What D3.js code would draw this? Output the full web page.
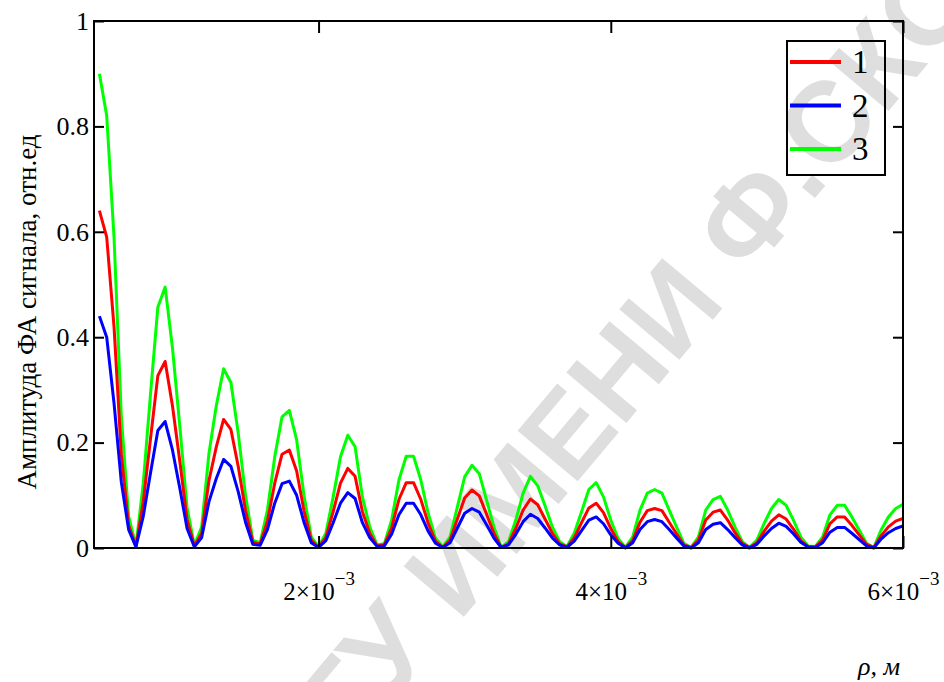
<!DOCTYPE html>
<html>
<head>
<meta charset="utf-8">
<script src="https://cdn.jsdelivr.net/npm/d3@7"></script>
<style>
  body { margin: 0; background: #fff; }
  .chart text { font-family: "Liberation Serif", "DejaVu Serif", "Times New Roman", Times, serif; }
  .chart text.wm { font-family: "Liberation Sans", Arial, sans-serif; }
</style>
</head>
<body>
<svg class="chart" width="944" height="682"></svg>
<script>
// rho, x10^-3 m
const rho = [0.50,0.55,0.60,0.65,0.70,0.75,0.80,0.85,0.90,0.95,
  1.00,1.05,1.10,1.15,1.20,1.25,1.30,1.35,1.40,1.45,
  1.50,1.55,1.60,1.65,1.70,1.75,1.80,1.85,1.90,1.95,
  2.00,2.05,2.10,2.15,2.20,2.25,2.30,2.35,2.40,2.45,
  2.50,2.55,2.60,2.65,2.70,2.75,2.80,2.85,2.90,2.95,
  3.00,3.05,3.10,3.15,3.20,3.25,3.30,3.35,3.40,3.45,
  3.50,3.55,3.60,3.65,3.70,3.75,3.80,3.85,3.90,3.95,
  4.00,4.05,4.10,4.15,4.20,4.25,4.30,4.35,4.40,4.45,
  4.50,4.55,4.60,4.65,4.70,4.75,4.80,4.85,4.90,4.95,
  5.00,5.05,5.10,5.15,5.20,5.25,5.30,5.35,5.40,5.45,
  5.50,5.55,5.60,5.65,5.70,5.75,5.80,5.85,5.90,5.95,6.00];

// curve 1 (red)
const amp1 = [0.640,0.590,0.420,0.178,0.043,0.003,0.087,0.208,0.327,0.354,
  0.270,0.165,0.054,0.004,0.028,0.128,0.192,0.244,0.225,0.155,
  0.071,0.011,0.007,0.051,0.123,0.178,0.186,0.146,0.071,0.015,
  0.001,0.020,0.069,0.123,0.151,0.136,0.069,0.028,0.004,0.006,
  0.038,0.092,0.124,0.124,0.092,0.047,0.013,0.001,0.015,0.055,
  0.095,0.110,0.099,0.064,0.028,0.001,0.008,0.037,0.072,0.093,
  0.082,0.055,0.028,0.008,0.002,0.019,0.048,0.076,0.085,0.067,
  0.037,0.012,0.001,0.014,0.049,0.071,0.075,0.071,0.049,0.027,
  0.006,0.001,0.015,0.053,0.068,0.072,0.053,0.029,0.009,0.001,
  0.010,0.032,0.051,0.063,0.055,0.036,0.014,0.003,0.002,0.015,
  0.046,0.059,0.059,0.043,0.025,0.007,0.001,0.023,0.040,0.051,0.056];

// curve 2 (blue)
const amp2 = [0.440,0.400,0.275,0.125,0.035,0.002,0.060,0.143,0.223,0.240,
  0.186,0.114,0.037,0.002,0.020,0.088,0.132,0.168,0.155,0.107,
  0.049,0.007,0.005,0.035,0.085,0.122,0.127,0.100,0.049,0.010,
  0.001,0.014,0.048,0.085,0.105,0.094,0.048,0.020,0.003,0.004,
  0.026,0.063,0.085,0.085,0.063,0.032,0.009,0.001,0.010,0.038,
  0.066,0.075,0.068,0.044,0.019,0.001,0.006,0.026,0.050,0.064,
  0.056,0.038,0.019,0.006,0.001,0.013,0.033,0.053,0.059,0.046,
  0.025,0.009,0.000,0.010,0.035,0.050,0.054,0.050,0.035,0.019,
  0.004,0.000,0.010,0.035,0.045,0.048,0.035,0.020,0.006,0.000,
  0.007,0.023,0.037,0.047,0.041,0.027,0.011,0.002,0.001,0.010,
  0.030,0.039,0.039,0.028,0.016,0.004,0.000,0.017,0.029,0.037,0.042];

// curve 3 (green)
const amp3 = [0.900,0.820,0.590,0.250,0.060,0.004,0.122,0.293,0.457,0.495,
  0.380,0.232,0.076,0.005,0.040,0.180,0.270,0.340,0.314,0.218,
  0.100,0.015,0.010,0.072,0.173,0.249,0.261,0.205,0.100,0.021,
  0.002,0.028,0.097,0.173,0.214,0.192,0.097,0.040,0.006,0.008,
  0.053,0.129,0.174,0.174,0.129,0.066,0.019,0.002,0.021,0.078,
  0.135,0.157,0.141,0.091,0.040,0.002,0.012,0.053,0.104,0.136,
  0.118,0.080,0.040,0.012,0.003,0.028,0.069,0.111,0.124,0.097,
  0.053,0.018,0.001,0.021,0.072,0.104,0.111,0.104,0.072,0.040,
  0.009,0.001,0.021,0.072,0.092,0.098,0.072,0.040,0.012,0.001,
  0.015,0.047,0.075,0.092,0.081,0.053,0.021,0.004,0.003,0.021,
  0.063,0.081,0.081,0.059,0.034,0.009,0.001,0.034,0.059,0.075,0.083];

const seriesNames = ['1', '2', '3'];
const seriesColors = ['#ff0000', '#0000ff', '#00ff00'];
const yTicks = [0, 0.2, 0.4, 0.6, 0.8, 1];
const xTicks = [2, 4, 6];   // x10^-3
const yTitle = 'Амплитуда ФА сигнала, отн.ед';
const xTitle = 'ρ, м';
const watermark = 'ГГУ ИМЕНИ Ф.СКОРИНЫ';

const svg = d3.select('.chart');
const plot = {left: 94, right: 903, top: 21, bottom: 548};

const x = d3.scaleLinear().domain([0.463, 6]).range([plot.left, plot.right]);
const y = d3.scaleLinear().domain([0, 1]).range([plot.bottom, plot.top]);

// watermark behind everything
svg.append('text')
    .attr('class', 'wm')
    .attr('transform', 'translate(310,800) rotate(-50)')
    .style('font-size', '114px')
    .style('font-weight', 'bold')
    .style('fill', '#dedede')
    .text(watermark);

svg.append('clipPath').attr('id', 'plot-clip')
  .append('rect')
    .attr('x', plot.left).attr('y', plot.top - 2)
    .attr('width', plot.right - plot.left).attr('height', plot.bottom - plot.top + 4);

const line = d3.line()
    .x((d, i) => x(rho[i]))
    .y(d => y(d));

const series = [amp1, amp2, amp3];
// green first, then red, then blue on top
const order = [2, 0, 1];
order.forEach(k => {
    svg.append('path')
        .datum(series[k])
        .attr('clip-path', 'url(#plot-clip)')
        .attr('fill', 'none')
        .attr('stroke', seriesColors[k])
        .attr('stroke-width', 3)
        .attr('stroke-linejoin', 'round')
        .attr('d', line);
});

// frame
svg.append('rect')
    .attr('x', plot.left).attr('y', plot.top)
    .attr('width', plot.right - plot.left).attr('height', plot.bottom - plot.top)
    .attr('fill', 'none')
    .attr('stroke', '#000')
    .attr('stroke-width', 2);

// y axis
const yAxis = svg.append('g')
    .attr('transform', `translate(${plot.left},0)`)
    .call(d3.axisLeft(y).tickValues(yTicks).tickSize(-10).tickPadding(5)
        .tickFormat(d => d === 0 || d === 1 ? String(d) : d3.format('.1f')(d)));
yAxis.attr('font-family', null).attr('font-size', null);
yAxis.select('.domain').remove();
yAxis.selectAll('.tick line').attr('stroke', '#000').attr('stroke-width', 2);
yAxis.selectAll('.tick text')
    .style('font-size', '26px')
    .attr('fill', '#000');

svg.append('g')
    .attr('transform', `translate(${plot.right},0)`)
    .call(d3.axisRight(y).tickValues(yTicks).tickSize(-10).tickFormat(''))
    .call(g => g.select('.domain').remove())
    .selectAll('.tick line').attr('stroke', '#000').attr('stroke-width', 2);

// x axis
const xAxis = svg.append('g')
    .attr('transform', `translate(0,${plot.bottom})`)
    .call(d3.axisBottom(x).tickValues(xTicks).tickSize(-12).tickFormat(''));
xAxis.attr('font-family', null).attr('font-size', null);
xAxis.select('.domain').remove();
xAxis.selectAll('.tick line').attr('stroke', '#000').attr('stroke-width', 2);
xAxis.selectAll('.tick text')
    .attr('y', 52).attr('dy', null)
    .attr('fill', '#000')
    .style('font-size', '25px')
    .each(function(d) {
        const t = d3.select(this);
        t.append('tspan').text(d + '×10');
        t.append('tspan').attr('dy', -15).style('font-size', '19px').text('−3');
    });

svg.append('g')
    .attr('transform', `translate(0,${plot.top})`)
    .call(d3.axisTop(x).tickValues(xTicks).tickSize(-12).tickFormat(''))
    .call(g => g.select('.domain').remove())
    .selectAll('.tick line').attr('stroke', '#000').attr('stroke-width', 2);

// titles
svg.append('text')
    .attr('transform', 'translate(36,312) rotate(-90)')
    .attr('text-anchor', 'middle')
    .style('font-size', '27px')
    .text(yTitle);

svg.append('text')
    .attr('x', 858).attr('y', 675)
    .style('font-size', '26px')
    .style('font-style', 'italic')
    .text(xTitle);

// legend
const legend = svg.append('g');
legend.append('rect')
    .attr('x', 787).attr('y', 41)
    .attr('width', 98).attr('height', 134)
    .attr('fill', 'none')
    .attr('stroke', '#000')
    .attr('stroke-width', 2);

const legendY = d3.scalePoint().domain(seriesNames).range([62, 149]);
seriesNames.forEach((name, i) => {
    legend.append('line')
        .attr('x1', 790).attr('x2', 841)
        .attr('y1', legendY(name)).attr('y2', legendY(name))
        .attr('stroke', seriesColors[i])
        .attr('stroke-width', 4);
    legend.append('text')
        .attr('x', 852).attr('y', legendY(name) + 11)
        .style('font-size', '33px')
        .text(name);
});
</script>
</body>
</html>
